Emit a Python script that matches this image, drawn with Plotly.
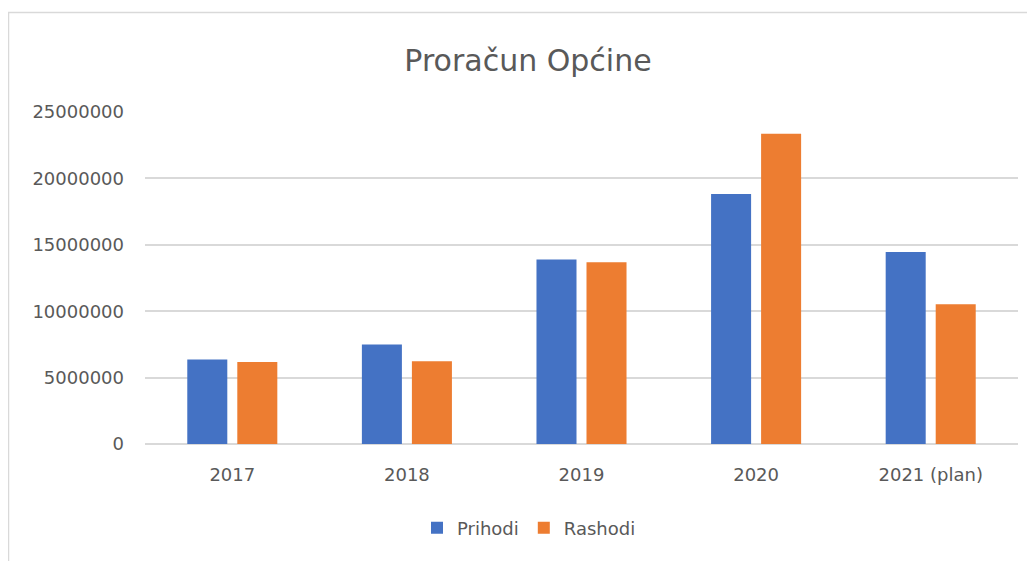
import plotly.graph_objects as go

categories = ["2017", "2018", "2019", "2020", "2021 (plan)"]
prihodi = [6360000, 7500000, 13890000, 18820000, 14450000]
rashodi = [6170000, 6240000, 13690000, 23370000, 10520000]
series_names = ["Prihodi", "Rashodi"]
colors = ["#4472C4", "#ED7D31"]
y_ticks = [0, 5000000, 10000000, 15000000, 20000000, 25000000]

FONT = "DejaVu Sans"
GRAY = "#595959"

fig = go.Figure()
for name, vals, c in zip(series_names, [prihodi, rashodi], colors):
    fig.add_trace(go.Bar(x=categories, y=vals, name=name, marker_color=c,
                         marker_line_width=0))

# page is rendered with an 8px body margin; work in page pixels, shift by OFF
OFF = 8
W, H = 1035 - OFF, 561 - OFF
L = 145 - OFF
R = W - (1018 - OFF)
T = 112 - OFF
B = H - (443.7 - OFF)
pw, ph = W - L - R, H - T - B

def px_x(p):
    return (p - OFF - L) / pw

def px_y(p):
    return (H - B - (p - OFF)) / ph

fig.update_layout(
    width=W, height=H,
    margin=dict(l=L, r=R, t=T, b=B, pad=0),
    paper_bgcolor="white", plot_bgcolor="white",
    barmode="group", bargap=0.427, bargroupgap=0.2,
    title=dict(text="Proračun Općine", x=(528 - OFF) / W, xanchor="center",
               y=1 - (60 - OFF) / H, yanchor="middle", yref="container",
               font=dict(family=FONT, size=30, color=GRAY)),
    font=dict(family=FONT, color=GRAY),
    xaxis=dict(showgrid=False, showline=False, ticks="", zeroline=False,
               tickfont=dict(family=FONT, size=18, color=GRAY),
               ticklabelstandoff=18),
    yaxis=dict(range=[0, 25000000], tickvals=y_ticks,
               ticktext=[str(v) for v in y_ticks],
               showgrid=True, gridcolor="#D9D9D9", gridwidth=1.5,
               zeroline=True, zerolinecolor="#D9D9D9", zerolinewidth=1.5,
               showline=False, ticks="",
               tickfont=dict(family=FONT, size=18, color=GRAY),
               ticklabelstandoff=20),
    legend=dict(orientation="h", x=(529 - OFF) / W, xanchor="center", xref="container",
                y=1 - (528 - OFF) / H, yanchor="middle", yref="container",
                font=dict(family=FONT, size=18, color=GRAY),
                itemwidth=30, traceorder="normal"),
    shapes=[dict(type="rect", xref="paper", yref="paper",
                 x0=px_x(8.5), x1=px_x(1060), y0=px_y(600), y1=px_y(12.5),
                 line=dict(color="#D9D9D9", width=1.5), layer="below")],
)

fig.write_html("out.html")
